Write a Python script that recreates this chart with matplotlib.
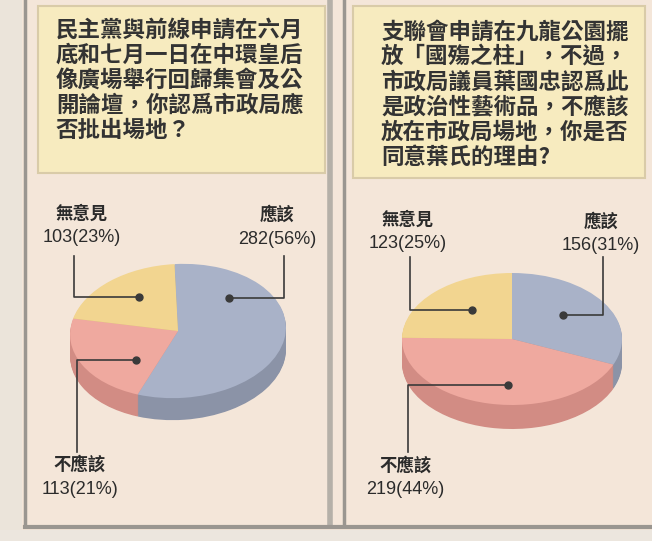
import matplotlib.pyplot as plt
from matplotlib.patches import Wedge, Rectangle
from matplotlib.transforms import Affine2D

plt.rcParams['font.family'] = ['Noto Sans CJK TC', 'DejaVu Sans']

# data
categories = ['應該', '不應該', '無意見']
left_counts = [282, 113, 103]
left_pct = [56, 21, 23]
right_counts = [156, 219, 123]
right_pct = [31, 44, 25]

left_title = ['民主黨與前線申請在六月', '底和七月一日在中環皇后', '像廣場舉行回歸集會及公',
              '開論壇，你認爲市政局應', '否批出場地？']
right_title = ['支聯會申請在九龍公園擺', '放「國殤之柱」，不過，', '市政局議員葉國忠認爲此',
               '是政治性藝術品，不應該', '放在市政局場地，你是否', '同意葉氏的理由?']

top_colors = {'應該': '#a9b2c8', '不應該': '#efa99f', '無意見': '#f2d590'}
side_colors = {'應該': '#8b93a7', '不應該': '#d28c84', '無意見': '#d9bb78'}

fig = plt.figure(figsize=(6.52, 5.41), dpi=100)
fig.patch.set_facecolor('#f4e6d9')
ax = fig.add_axes([0, 0, 1, 1])
ax.set_xlim(0, 652)
ax.set_ylim(541, 0)
ax.axis('off')

# panel frame lines
ax.add_patch(Rectangle((0, 0), 22, 541, facecolor='#ebe4da', edgecolor='none'))
ax.plot([25, 25], [0, 525], color='#9a9690', lw=2.5)
ax.plot([330, 330], [0, 525], color='#b5b0a8', lw=4)
ax.plot([344, 344], [0, 525], color='#9a9690', lw=2.5)
ax.plot([25, 652], [527, 527], color='#9a9690', lw=3)
ax.add_patch(Rectangle((0, 530), 652, 11, facecolor='#ece6de', edgecolor='none'))

# title boxes
ax.add_patch(Rectangle((38, 6), 287, 167, facecolor='#f7ebbf', edgecolor='#d9cba8', lw=1.5))
ax.add_patch(Rectangle((353, 6), 292, 172, facecolor='#f7ebbf', edgecolor='#d9cba8', lw=1.5))

for i, line in enumerate(left_title):
    ax.text(56, 30 + i * 25.2, line, fontsize=16.2, fontweight='heavy', color='#333333',
            ha='left', va='center')
for i, line in enumerate(right_title):
    ax.text(381, 32 + i * 25.0, line, fontsize=16.2, fontweight='heavy', color='#333333',
            ha='left', va='center')


def draw_pie(cx, cy, rx, ry, depth, counts, rot):
    total = sum(counts)
    spans = []
    start = 90.0
    for cat, v in zip(categories, counts):
        sweep = 360.0 * v / total
        spans.append((cat, start - sweep, start))
        start -= sweep
    for d in range(depth, 0, -1):
        tr = Affine2D().scale(rx, -ry).rotate_deg(rot).translate(cx, cy + d) + ax.transData
        for cat, t1, t2 in spans:
            ax.add_patch(Wedge((0, 0), 1, t1, t2, facecolor=side_colors[cat],
                               edgecolor='none', transform=tr))
    tr = Affine2D().scale(rx, -ry).rotate_deg(rot).translate(cx, cy) + ax.transData
    for cat, t1, t2 in spans:
        ax.add_patch(Wedge((0, 0), 1, t1, t2, facecolor=top_colors[cat],
                           edgecolor='none', transform=tr))


draw_pie(178, 331, 108, 67, 22, left_counts, -3)
draw_pie(512, 339, 110, 66, 24, right_counts, 0)


def label(tx, ty, cat, count, pct):
    ax.text(tx, ty, cat, fontsize=12.5, fontweight='bold', color='#2b2b2b',
            ha='center', va='center')
    ax.text(tx, ty + 24, f'{count}({pct}%)', fontsize=13, color='#2b2b2b',
            family='Liberation Sans', ha='center', va='center')


def leader(path):
    xs, ys = zip(*path)
    ax.plot(xs, ys, color='#3a3a3a', lw=1.2)
    ax.plot(xs[-1], ys[-1], 'o', color='#3a3a3a', ms=5)


# left chart labels
label(82, 214, categories[2], left_counts[2], left_pct[2])
leader([(74, 256), (74, 297), (139, 297)])
label(277, 215, categories[0], left_counts[0], left_pct[0])
leader([(284, 256), (284, 298), (229, 298)])
label(80, 465, categories[1], left_counts[1], left_pct[1])
leader([(77, 452), (77, 360), (136, 360)])

# right chart labels
label(408, 220, categories[2], right_counts[2], right_pct[2])
leader([(410, 257), (410, 310), (472, 310)])
label(601, 222, categories[0], right_counts[0], right_pct[0])
leader([(603, 257), (603, 315), (563, 315)])
label(405, 466, categories[1], right_counts[1], right_pct[1])
leader([(408, 452), (408, 385), (508, 385)])

fig.savefig('out.png', dpi=100, facecolor=fig.get_facecolor())
